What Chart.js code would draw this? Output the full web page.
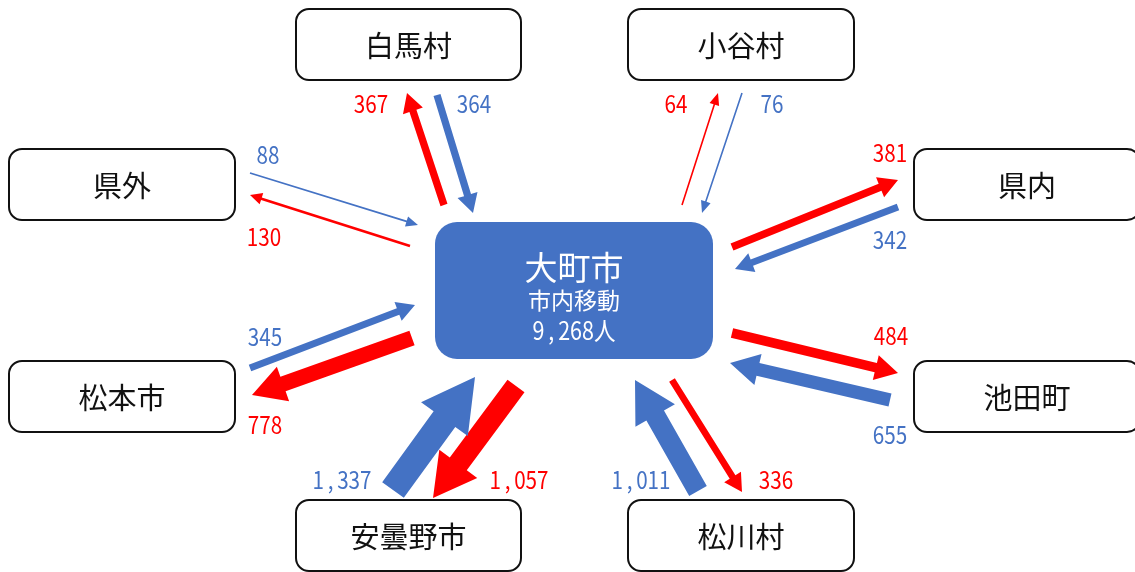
<!DOCTYPE html>
<html lang="ja">
<head>
    <meta charset="UTF-8">
    <title>大町市 転入・転出</title>
    <script src="https://cdn.jsdelivr.net/npm/chart.js"></script>
    <style>
        html, body {
    margin: 0;
    padding: 0;
    background: #ffffff;
}
canvas {
    display: block;
}
    </style>
</head>
<body>
    <canvas id="flowChart" width="1135" height="572"></canvas>
    <script>
// Data
const places = ["白馬村", "小谷村", "県外", "県内", "松本市", "池田町", "安曇野市", "松川村"];
const outflow = [367, 64, 130, 381, 778, 484, 1057, 336];   // 大町市 -> place (red)
const inflow = [364, 76, 88, 342, 345, 655, 1337, 1011];    // place -> 大町市 (blue)
const centerName = "大町市";
const centerSub = "市内移動";
const withinCity = 9268;

// Layout (chart units = pixels of the 1135x572 picture)
const boxes = [
    [296, 9, 225, 71], [628, 9, 226, 71],
    [9, 149, 226, 71], [914, 149, 226, 71],
    [9, 361, 226, 71], [914, 361, 226, 71],
    [296, 500, 225, 71], [628, 500, 226, 71]
];
const centerBox = [435, 222, 278, 137];
// [tailX, tailY, tipX, tipY]
const outArrows = [
    [444, 205, 407, 93], [682, 205, 718, 93],
    [410, 246, 250, 195], [732, 247, 898, 180],
    [412, 338, 252, 395], [732, 333, 898, 373],
    [516, 386, 433, 498], [672, 380, 742, 492]
];
const inArrows = [
    [437, 95, 473, 213], [742, 93, 702, 213],
    [250, 173, 418, 225], [898, 207, 735, 269],
    [250, 368, 415, 305], [890, 400, 730, 363],
    [393, 490, 475, 377], [698, 491, 635, 380]
];
const outLabelPos = [[371, 104], [676, 104], [264, 237], [890, 153], [265, 425], [891, 336], [519, 480], [776, 480]];
const inLabelPos = [[474, 104], [772, 104], [268, 155], [890, 240], [265, 337], [890, 435], [342, 480], [641, 480]];

const RED = "#ff0000";
const BLUE = "#4472c4";
const FONT = '"Noto Sans CJK JP", "Noto Sans", sans-serif';

function fmt(v) {
    return v.toLocaleString("en-US");
}

function roundRect(ctx, x, y, w, h, r) {
    ctx.beginPath();
    ctx.moveTo(x + r, y);
    ctx.arcTo(x + w, y, x + w, y + h, r);
    ctx.arcTo(x + w, y + h, x, y + h, r);
    ctx.arcTo(x, y + h, x, y, r);
    ctx.arcTo(x, y, x + w, y, r);
    ctx.closePath();
}

function drawArrow(ctx, x1, y1, x2, y2, value, color) {
    const w = Math.max(1.6, value / 50);
    const hw = Math.max(9, w * 1.9 + 7);
    const hl = Math.max(12, hw * 0.9);
    const dx = x2 - x1, dy = y2 - y1;
    const len = Math.sqrt(dx * dx + dy * dy);
    const ux = dx / len, uy = dy / len;
    const px = -uy, py = ux;
    const bx = x2 - ux * hl, by = y2 - uy * hl;
    ctx.beginPath();
    ctx.moveTo(x1 + px * w / 2, y1 + py * w / 2);
    ctx.lineTo(bx + px * w / 2, by + py * w / 2);
    ctx.lineTo(bx + px * hw / 2, by + py * hw / 2);
    ctx.lineTo(x2, y2);
    ctx.lineTo(bx - px * hw / 2, by - py * hw / 2);
    ctx.lineTo(bx - px * w / 2, by - py * w / 2);
    ctx.lineTo(x1 - px * w / 2, y1 - py * w / 2);
    ctx.closePath();
    ctx.fillStyle = color;
    ctx.fill();
}

// numbers are drawn condensed, with a wide comma as in the original
function drawNumber(ctx, text, x, y, color, size) {
    ctx.save();
    ctx.translate(x, y);
    ctx.scale(0.86, 1);
    ctx.fillStyle = color;
    ctx.font = size + "px " + FONT;
    ctx.textAlign = "left";
    ctx.textBaseline = "middle";
    const chars = text.split("");
    const extra = ch => (ch === "," ? size * 0.36 : 0);
    let total = 0;
    chars.forEach(ch => { total += ctx.measureText(ch).width + extra(ch); });
    let cur = -total / 2;
    chars.forEach(ch => {
        ctx.fillText(ch, cur + extra(ch) / 2, 0);
        cur += ctx.measureText(ch).width + extra(ch);
    });
    ctx.restore();
}

const flowPlugin = {
    id: "flowPlugin",
    afterDraw(chart) {
        const ctx = chart.ctx;
        const xs = chart.scales.x, ys = chart.scales.y;
        const X = v => xs.getPixelForValue(v);
        const Y = v => ys.getPixelForValue(v);

        // place boxes
        places.forEach((name, i) => {
            const b = boxes[i];
            const x = X(b[0]), y = Y(b[1]);
            const w = X(b[0] + b[2]) - x, h = Y(b[1] + b[3]) - y;
            roundRect(ctx, x, y, w, h, 13);
            ctx.fillStyle = "#ffffff";
            ctx.fill();
            ctx.lineWidth = 2;
            ctx.strokeStyle = "#111111";
            ctx.stroke();
            ctx.fillStyle = "#111111";
            ctx.font = "29px " + FONT;
            ctx.textAlign = "center";
            ctx.textBaseline = "middle";
            ctx.fillText(name, x + w / 2, y + h / 2 + 1);
        });

        // center box
        const c = centerBox;
        const cx = X(c[0]), cy = Y(c[1]);
        const cw = X(c[0] + c[2]) - cx, ch = Y(c[1] + c[3]) - cy;
        roundRect(ctx, cx, cy, cw, ch, 22);
        ctx.fillStyle = BLUE;
        ctx.fill();
        ctx.fillStyle = "#ffffff";
        ctx.textAlign = "center";
        ctx.textBaseline = "middle";
        ctx.font = "33px " + FONT;
        ctx.fillText(centerName, cx + cw / 2, Y(267));
        ctx.font = "23px " + FONT;
        ctx.fillText(centerSub, cx + cw / 2, Y(300));
        drawNumber(ctx, fmt(withinCity) + "人", cx + cw / 2, Y(330), "#ffffff", 25);

        // arrows + labels
        places.forEach((name, i) => {
            const o = outArrows[i], n = inArrows[i];
            drawArrow(ctx, X(o[0]), Y(o[1]), X(o[2]), Y(o[3]), outflow[i], RED);
            drawArrow(ctx, X(n[0]), Y(n[1]), X(n[2]), Y(n[3]), inflow[i], BLUE);
            drawNumber(ctx, fmt(outflow[i]), X(outLabelPos[i][0]), Y(outLabelPos[i][1]), RED, 24);
            drawNumber(ctx, fmt(inflow[i]), X(inLabelPos[i][0]), Y(inLabelPos[i][1]), BLUE, 24);
        });
    }
};

new Chart(document.getElementById("flowChart"), {
    type: "scatter",
    data: {
        datasets: [{
            data: places.map((p, i) => ({ x: boxes[i][0] + boxes[i][2] / 2, y: boxes[i][1] + boxes[i][3] / 2 })),
            pointRadius: 0
        }]
    },
    options: {
        responsive: false,
        animation: false,
        devicePixelRatio: 1,
        layout: { padding: 0 },
        scales: {
            x: { type: "linear", min: 0, max: 1135, display: false },
            y: { type: "linear", min: 0, max: 572, reverse: true, display: false }
        },
        plugins: {
            legend: { display: false },
            tooltip: { enabled: false }
        }
    },
    plugins: [flowPlugin]
});
    </script>
</body>
</html>
